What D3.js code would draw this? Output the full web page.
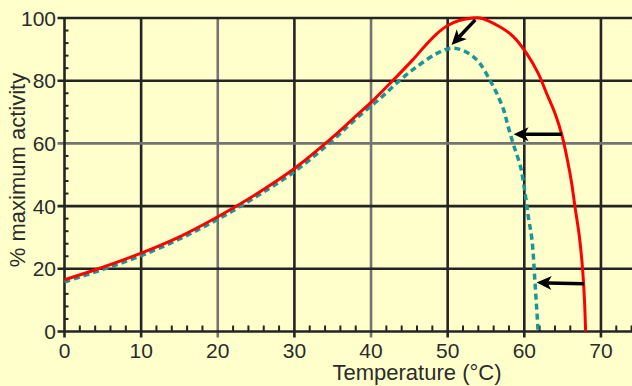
<!DOCTYPE html>
<html>
<head>
<meta charset="utf-8">
<script src="https://cdn.jsdelivr.net/npm/d3@7"></script>
<style>
  body { margin: 0; background: #ffffcc; }
  svg { display: block; font-family: "Liberation Sans", Arial, sans-serif; }
  .tick-label { fill: #2b2b2b; font-size: 21px; }
  .axis-title { fill: #2b2b2b; font-size: 22px; }
</style>
</head>
<body>
<div id="chart"></div>
<script>
// temperature (deg C) vs % maximum activity
const redCurve = [
  [0, 16.5], [5, 20.5], [10, 25], [15, 30.2], [20, 36.6], [25, 43.8], [30, 52],
  [35, 62], [37.7, 68], [40.1, 73.3], [42.9, 80.2], [45.5, 86.8], [47, 91],
  [48.5, 94.8], [50, 97.6], [51.5, 99.2], [53, 99.9], [54.2, 100], [56.8, 97.2],
  [58.6, 94], [60.3, 88.7], [61.8, 82.4], [62.9, 76], [64, 69.6], [64.9, 62.7],
  [65.6, 55], [66.2, 47], [66.6, 40], [67.2, 30], [67.6, 20], [67.85, 10], [68, 0]
];

const tealCurve = [
  [0, 15.8], [5, 19.8], [10, 24.2], [15, 29.5], [20, 35.8], [25, 43], [30, 51],
  [35, 61], [38.1, 68], [41.2, 74.4], [43.8, 80.2], [46, 84.5], [48.6, 88.7],
  [50.3, 90.3], [51.6, 90], [53, 88.3], [54.2, 85.5], [55.5, 80.2], [56.4, 76],
  [57.3, 70.7], [57.9, 65.3], [58.6, 59.5], [59.5, 52.6], [60.1, 44.1],
  [60.5, 37], [61, 29.2], [61.4, 15.4], [61.8, 0]
];

// arrows: [from, to] in data units
const arrows = [
  [[53.6, 99.4], [50.5, 91.4]],
  [[64.9, 62.9], [58.6, 62.9]],
  [[67.8, 15.2], [61.6, 15.6]]
];

const xMajor = [0, 10, 20, 30, 40, 50, 60, 70];
const yMajor = [0, 20, 40, 60, 80, 100];
const xMinor = d3.range(0, 75, 2).filter(v => v % 10 !== 0);
const yMinor = d3.range(0, 100, 4).filter(v => v % 20 !== 0);

const W = 632, H = 386;
const svg = d3.select('#chart').append('svg').attr('width', W).attr('height', H);
svg.append('rect').attr('width', W).attr('height', H).attr('fill', '#ffffcc');

const x = d3.scaleLinear().domain([0, 74]).range([64.5, 631.6]);
const y = d3.scaleLinear().domain([0, 100]).range([331.5, 18]);

const dark = '#242424', light = '#737373';
const lightX = [20, 40], lightY = [60];

// grid
svg.append('g').selectAll('line').data(xMajor.filter(v => v > 0)).join('line')
  .attr('x1', d => x(d)).attr('x2', d => x(d))
  .attr('y1', y(100)).attr('y2', y(0) + 6)
  .attr('stroke', d => lightX.includes(d) ? light : dark)
  .attr('stroke-width', 2.6);

svg.append('g').selectAll('line').data(yMajor.filter(v => v > 0)).join('line')
  .attr('x1', x(0) - 7).attr('x2', W)
  .attr('y1', d => y(d)).attr('y2', d => y(d))
  .attr('stroke', d => lightY.includes(d) ? light : dark)
  .attr('stroke-width', 2.6);

// axes lines
svg.append('line').attr('x1', x(0)).attr('x2', x(0)).attr('y1', y(100) - 1).attr('y2', y(0) + 6)
  .attr('stroke', dark).attr('stroke-width', 2.6);
svg.append('line').attr('x1', x(0) - 7).attr('x2', W).attr('y1', y(0)).attr('y2', y(0))
  .attr('stroke', dark).attr('stroke-width', 2.6);

// minor ticks
svg.append('g').selectAll('line').data(xMinor).join('line')
  .attr('x1', d => x(d)).attr('x2', d => x(d))
  .attr('y1', y(0)).attr('y2', y(0) - 6)
  .attr('stroke', dark).attr('stroke-width', 2);
svg.append('g').selectAll('line').data(yMinor).join('line')
  .attr('x1', x(0)).attr('x2', x(0) + 4)
  .attr('y1', d => y(d)).attr('y2', d => y(d))
  .attr('stroke', dark).attr('stroke-width', 2);

// tick labels
svg.append('g').selectAll('text').data(xMajor).join('text')
  .attr('class', 'tick-label')
  .attr('x', d => x(d)).attr('y', 358)
  .attr('text-anchor', 'middle')
  .text(d => d);
svg.append('g').selectAll('text').data(yMajor).join('text')
  .attr('class', 'tick-label')
  .attr('x', 56).attr('y', d => y(d)).attr('dy', '0.36em')
  .attr('text-anchor', 'end')
  .text(d => d);

// axis titles
svg.append('text').attr('class', 'axis-title')
  .attr('x', 417).attr('y', 380).attr('text-anchor', 'middle')
  .text('Temperature (°C)');
svg.append('text').attr('class', 'axis-title')
  .attr('transform', 'translate(25,170) rotate(-90)')
  .attr('text-anchor', 'middle')
  .text('% maximum activity');

// curves
const line = d3.line()
  .x(d => x(d[0]))
  .y(d => y(d[1]))
  .curve(d3.curveCatmullRom.alpha(0.5));

svg.append('path').datum(tealCurve)
  .attr('d', line).attr('fill', 'none')
  .attr('stroke', '#1a9696').attr('stroke-width', 3.5)
  .attr('stroke-dasharray', '6,4');

svg.append('path').datum(redCurve)
  .attr('d', line).attr('fill', 'none')
  .attr('stroke', '#ff0000').attr('stroke-width', 3);

// arrows
const head = 15, halfW = 7;
arrows.forEach(([from, to]) => {
  const x0 = x(from[0]), y0 = y(from[1]), x1 = x(to[0]), y1 = y(to[1]);
  const a = Math.atan2(y1 - y0, x1 - x0);
  const c = Math.cos(a), s = Math.sin(a);
  const bx = x1 - c * head, by = y1 - s * head;
  const nx = x1 - c * (head - 4), ny = y1 - s * (head - 4);
  svg.append('line')
    .attr('x1', x0).attr('y1', y0).attr('x2', nx).attr('y2', ny)
    .attr('stroke', '#000').attr('stroke-width', 3.5);
  svg.append('path')
    .attr('d', `M${x1},${y1}L${bx - s * halfW},${by + c * halfW}L${nx},${ny}L${bx + s * halfW},${by - c * halfW}Z`)
    .attr('fill', '#000');
});
</script>
</body>
</html>
